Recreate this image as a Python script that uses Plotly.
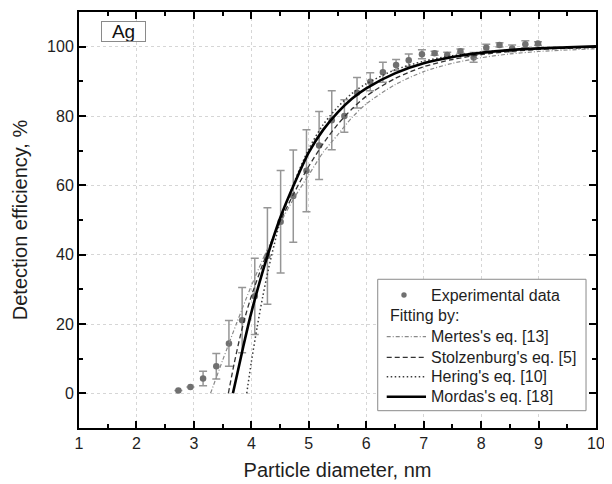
import plotly.graph_objects as go

x_exp = [2.73, 2.94, 3.16, 3.39, 3.61, 3.84, 4.06, 4.28, 4.51, 4.73, 4.96, 5.18, 5.40, 5.62,
         5.84, 6.07, 6.29, 6.52, 6.74, 6.97, 7.19, 7.41, 7.64, 7.87, 8.09, 8.32, 8.54, 8.77, 8.99]
y_exp = [0.8, 1.8, 4.3, 7.8, 14.4, 21.1, 28.0, 39.6, 49.5, 56.9, 64.2, 71.5, 78.8, 80.0,
         86.7, 89.9, 92.6, 94.7, 96.1, 97.8, 98.1, 97.6, 98.7, 96.9, 99.7, 100.5, 99.5, 100.7, 100.9]
err_exp = [0, 0, 2.1, 3.7, 6.6, 9.4, 11.0, 13.9, 14.8, 13.3, 11.8, 9.8, 8.5, 4.7,
           4.4, 2.6, 2.9, 1.6, 1.8, 1.3, 0.6, 0.8, 0.6, 1.4, 1.0, 0.6, 1.0, 1.0, 0.5]

# ---- Fitted curves ----
x_mertes = [3.29, 3.5, 3.75, 4.0, 4.25, 4.5, 4.75, 5.0, 5.25, 5.5, 5.75, 6.0, 6.5, 7.0, 7.5, 8.0, 8.5, 9.0, 10.0]
y_mertes = [0, 9.5, 20.5, 31, 40.5, 49, 56.5, 63, 69.5, 74.5, 79.5, 83.5, 89, 92.8, 95.2, 96.8, 97.9, 98.6, 99.4]

x_stolz = [3.6, 3.7, 3.8, 3.9, 4.0, 4.25, 4.5, 4.75, 5.0, 5.25, 5.5, 5.75, 6.0, 6.5, 7.0, 7.5, 8.0, 8.5, 9.0, 10.0]
y_stolz = [0, 8.5, 16, 22.5, 28, 39.5, 49.5, 58, 65.5, 72, 77.5, 82, 85.7, 90.8, 94.2, 96.3, 97.7, 98.6, 99.2, 99.8]

x_hering = [3.92, 4.0, 4.1, 4.2, 4.3, 4.4, 4.5, 4.75, 5.0, 5.25, 5.5, 5.75, 6.0, 6.5, 7.0, 7.5, 8.0, 8.5, 9.0, 10.0]
y_hering = [0, 9, 19, 28, 36, 43, 49.5, 61, 70.5, 77.5, 82.5, 86.5, 89.3, 93.3, 95.8, 97.4, 98.4, 99.0, 99.4, 99.8]

x_mordas = [3.68, 3.76, 3.86, 3.98, 4.1, 4.25, 4.5, 4.75, 5.0, 5.25, 5.5, 5.75, 6.0, 6.5, 7.0, 7.5, 8.0, 8.5, 9.0, 9.5, 10.0]
y_mordas = [0, 6, 13.5, 22, 29.5, 38, 50.5, 60.5, 69.5, 76, 81, 85, 88, 92.3, 95.2, 97.0, 98.2, 99.0, 99.5, 99.8, 100.1]

x_ticks = [1, 2, 3, 4, 5, 6, 7, 8, 9, 10]
y_ticks = [0, 20, 40, 60, 80, 100]

legend_labels = ["Experimental data", "Fitting by:", "Mertes's eq. [13]",
                 "Stolzenburg's eq. [5]", "Hering's eq. [10]", "Mordas's eq. [18]"]

FONT = "Liberation Sans, Arial, sans-serif"
TXT = "#1e1e1e"

styles = {
    "mertes": dict(color="#8a8a8a", width=1.2, dash="4px,2px,1px,2px"),
    "stolz": dict(color="#333333", width=1.3, dash="5px,3px"),
    "hering": dict(color="#3a3a3a", width=1.5, dash="1.5px,2.5px"),
    "mordas": dict(color="#000000", width=2.6),
}

fig = go.Figure()
fig.add_trace(go.Scatter(
    x=x_exp, y=y_exp, mode="markers", name=legend_labels[0], showlegend=False,
    marker=dict(size=6.5, color="#707070"),
    error_y=dict(type="data", array=err_exp, visible=True, color="#969696", thickness=1.5, width=4)))
for key, xs, ys, lab in [("mertes", x_mertes, y_mertes, legend_labels[2]),
                         ("stolz", x_stolz, y_stolz, legend_labels[3]),
                         ("hering", x_hering, y_hering, legend_labels[4]),
                         ("mordas", x_mordas, y_mordas, legend_labels[5])]:
    fig.add_trace(go.Scatter(x=xs, y=ys, mode="lines", name=lab, showlegend=False,
                             line=dict(shape="spline", smoothing=0.8, **styles[key])))

# The page body adds an 8px offset, so the figure is 604x476 placed at (8, 8)
fig.update_layout(
    width=604, height=476,
    margin=dict(l=71, r=16, t=4, b=56),
    paper_bgcolor="white", plot_bgcolor="white",
    font=dict(family=FONT, size=16, color=TXT),
    showlegend=False,
)

axis_common = dict(
    ticks="inside", ticklen=7, tickwidth=2, tickcolor="black",
    showline=True, linewidth=2, linecolor="black", mirror="ticks",
    showgrid=True, gridcolor="#d6d6d6", griddash="dot", gridwidth=1,
    zeroline=False, automargin=False, tickfont=dict(size=16, family=FONT, color=TXT),
)

fig.update_xaxes(
    range=[1, 10], tickmode="array", tickvals=x_ticks,
    minor=dict(ticks="inside", ticklen=4, tickwidth=2, tickcolor="black", dtick=0.5, tick0=1, showgrid=False),
    title=dict(text="Particle diameter, nm", font=dict(size=20, family=FONT, color=TXT), standoff=12),
    **axis_common)
fig.update_yaxes(
    range=[-10, 110], tickmode="array", tickvals=y_ticks,
    minor=dict(ticks="inside", ticklen=4, tickwidth=2, tickcolor="black", dtick=10, tick0=0, showgrid=False),
    title=dict(text="Detection efficiency, %", font=dict(size=20, family=FONT, color=TXT), standoff=14),
    **axis_common)

# "Ag" label box
fig.add_annotation(
    text="Ag", xref="paper", yref="paper", x=0.042, y=0.978, xanchor="left", yanchor="top",
    showarrow=False, font=dict(size=19, family=FONT, color="#111"),
    bordercolor="#8a8a8a", borderwidth=1, borderpad=0, width=43, height=19, bgcolor="white")

# ---- Legend box (drawn in paper coordinates) ----
lx0, lx1, ly0, ly1 = 0.5778, 0.9807, 0.0416, 0.3575
rows = [0.3197, 0.2700, 0.2195, 0.1700, 0.1233, 0.0752]
samp_x0, samp_x1, text_x, title_x, mark_x = 0.5952, 0.6712, 0.677, 0.5977, 0.6286

fig.add_shape(type="rect", xref="paper", yref="paper", x0=lx0, x1=lx1, y0=ly0, y1=ly1,
              line=dict(color="#8a8a8a", width=1), fillcolor="white", layer="above")
fig.add_shape(type="circle", xref="paper", yref="paper", xsizemode="pixel", ysizemode="pixel",
              xanchor=mark_x, yanchor=rows[0], x0=-2.7, x1=2.7, y0=-2.7, y1=2.7,
              fillcolor="#707070", line=dict(color="#707070", width=0), layer="above")
for i, key in enumerate(["mertes", "stolz", "hering", "mordas"]):
    fig.add_shape(type="line", xref="paper", yref="paper", x0=samp_x0, x1=samp_x1,
                  y0=rows[i + 2], y1=rows[i + 2], line=styles[key], layer="above")
for i, lab in enumerate(legend_labels):
    fig.add_annotation(text=lab, xref="paper", yref="paper",
                       x=title_x if i == 1 else text_x, y=rows[i],
                       xanchor="left", yanchor="middle", showarrow=False,
                       font=dict(size=16, family=FONT, color=TXT))

fig.write_html("out.html")
